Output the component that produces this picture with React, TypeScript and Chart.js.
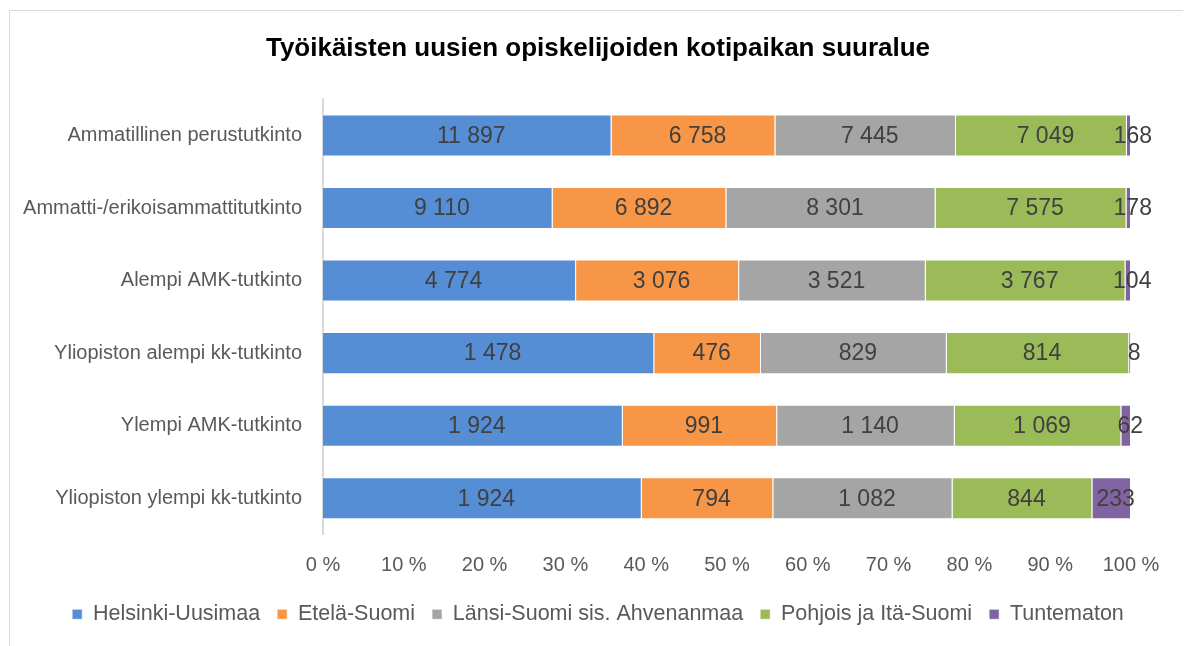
import React, { useEffect, useRef } from "react";
import { Chart, registerables } from "chart.js";

Chart.register(...registerables);

const categories = [
  "Ammatillinen perustutkinto",
  "Ammatti-/erikoisammattitutkinto",
  "Alempi AMK-tutkinto",
  "Yliopiston alempi kk-tutkinto",
  "Ylempi AMK-tutkinto",
  "Yliopiston ylempi kk-tutkinto",
];

const seriesNames = [
  "Helsinki-Uusimaa",
  "Etelä-Suomi",
  "Länsi-Suomi sis. Ahvenanmaa",
  "Pohjois ja Itä-Suomi",
  "Tuntematon",
];

const helsinkiUusimaa = [11897, 9110, 4774, 1478, 1924, 1924];
const etelaSuomi = [6758, 6892, 3076, 476, 991, 794];
const lansiSuomi = [7445, 8301, 3521, 829, 1140, 1082];
const pohjoisItaSuomi = [7049, 7575, 3767, 814, 1069, 844];
const tuntematon = [168, 178, 104, 8, 62, 233];

const xTicks = [0, 10, 20, 30, 40, 50, 60, 70, 80, 90, 100];

const colors = ["#558ED5", "#F79646", "#A5A5A5", "#9BBB59", "#8064A2"];

const FONT = '"Liberation Sans", Arial, sans-serif';

document.body.style.overflow = "hidden";

const fmt = (n: number) => String(n).replace(/\B(?=(\d{3})+(?!\d))/g, " ");

const labelPlugin = {
  id: "segLabels",
  afterDatasetsDraw(chart: any) {
    const ctx = chart.ctx;
    ctx.save();
    ctx.font = `23px ${FONT}`;
    ctx.fillStyle = "#404040";
    ctx.textAlign = "center";
    ctx.textBaseline = "middle";
    chart.data.datasets.forEach((ds: any, di: number) => {
      const meta = chart.getDatasetMeta(di);
      meta.data.forEach((bar: any, i: number) => {
        const cx = (bar.x + bar.base) / 2;
        ctx.fillText(fmt(ds.raw[i]), cx + 4, bar.y + 1);
      });
    });
    ctx.restore();
  },
};

export default function App() {
  const ref = useRef<HTMLCanvasElement | null>(null);
  useEffect(() => {
    if (!ref.current) return;
    const raws = [helsinkiUusimaa, etelaSuomi, lansiSuomi, pohjoisItaSuomi, tuntematon];
    const totals = categories.map((_, i) => raws.reduce((s, r) => s + r[i], 0));
    const datasets = raws.map((r, k) => ({
      label: seriesNames[k],
      data: r.map((v, i) => (v / totals[i]) * 100),
      raw: r,
      backgroundColor: colors[k],
      borderColor: "rgba(255,255,255,0.6)",
      borderWidth: 1,
      categoryPercentage: 1,
      barPercentage: 0.58,
    }));
    const chart = new Chart(ref.current, {
      type: "bar",
      data: { labels: categories, datasets: datasets as any },
      options: {
        indexAxis: "y",
        animation: false,
        responsive: false,
        layout: { padding: { left: 0, right: 0, top: 0, bottom: 16 } },
        plugins: {
          title: {
            display: true,
            text: "Työikäisten uusien opiskelijoiden kotipaikan suuralue",
            color: "#000000",
            font: { family: FONT, size: 26, weight: "bold" },
            padding: { top: 22, bottom: 35 },
          },
          legend: {
            position: "bottom",
            labels: {
              boxWidth: 10,
              boxHeight: 10,
              padding: 17,
              color: "#595959",
              font: { family: FONT, size: 21.5 },
            },
          },
          tooltip: { enabled: false },
        },
        scales: {
          x: {
            stacked: true,
            min: 0,
            max: 100,
            afterBuildTicks(scale: any) {
              scale.ticks = xTicks.map((v) => ({ value: v }));
            },
            afterFit(scale: any) {
              scale.height = 52;
            },
            ticks: {
              callback: (v: any) => `${v} %`,
              color: "#595959",
              font: { family: FONT, size: 20 },
              padding: 19,
              maxRotation: 0,
            },
            grid: { display: false, drawTicks: false },
            border: { display: false },
          },
          y: {
            stacked: true,
            afterFit(scale: any) {
              scale.width = 313;
            },
            ticks: {
              color: "#595959",
              font: { family: FONT, size: 20 },
              padding: 21,
            },
            grid: { display: false, drawTicks: false },
            border: { display: true, color: "#D9D9D9", width: 2 },
          },
          yRight: {
            type: "category",
            position: "right",
            labels: categories,
            afterFit(scale: any) {
              scale.width = 55;
            },
            ticks: { display: false },
            grid: { display: false, drawTicks: false },
            border: { display: false },
          },
        },
      },
      plugins: [labelPlugin],
    });
    return () => chart.destroy();
  }, []);
  return (
    <div
      style={{
        width: 1176,
        height: 660,
        border: "1px solid #D9D9D9",
        marginLeft: 1,
        marginTop: 2,
        background: "#fff",
      }}
    >
      <canvas ref={ref} width={1176} height={640} style={{ display: "block" }} />
    </div>
  );
}
